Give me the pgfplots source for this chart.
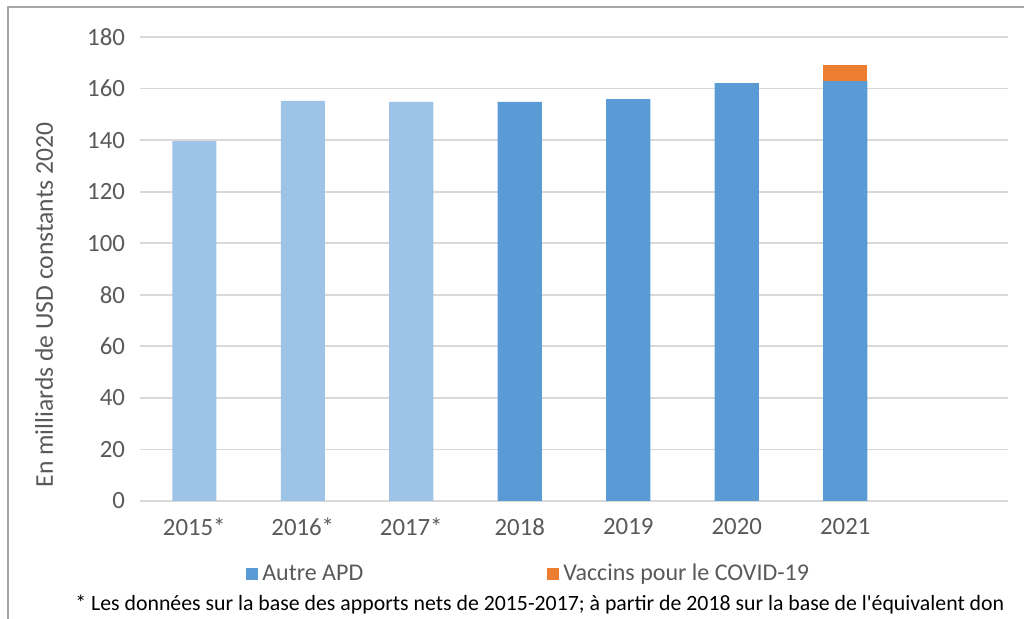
\documentclass[border=0pt]{standalone}
\usepackage{fontspec}
\setmainfont{Carlito}[Ligatures=TeXOff]
\usepackage{pgfplots}
\pgfplotsset{compat=1.18}
\definecolor{lightbar}{HTML}{9DC3E6}
\definecolor{bluebar}{HTML}{5B9BD5}
\definecolor{orangebar}{HTML}{ED7D31}
\definecolor{txt}{HTML}{595959}
\definecolor{gridc}{HTML}{D9D9D9}
\definecolor{framec}{HTML}{A6A6A6}
\begin{document}
\begin{tikzpicture}
\useasboundingbox (0,0) rectangle (512pt,-309.5pt);
\draw[framec,line width=0.8pt] (4pt,-309.5pt) -- (4pt,-3.5pt) -- (512pt,-3.5pt);
\begin{axis}[
  at={(70pt,-250.5pt)}, anchor=south west,
  scale only axis, width=434pt, height=232pt,
  ybar stacked, bar width=22pt,
  xmin=-0.5, xmax=7.5, ymin=0, ymax=180,
  xtick={0,1,2,3,4,5,6},
  xticklabels={2015*,2016*,2017*,2018,2019,2020,2021},
  ytick={0,20,...,180},
  ymajorgrids, grid style={gridc,line width=0.9pt},
  axis line style={draw=none},
  axis x line*=bottom,
  x axis line style={draw=gridc,line width=0.9pt},
  major tick length=0pt,
  tick label style={font=\fontsize{12.4}{14}\selectfont, text=txt},
  /pgf/number format/assume math mode=true,
  yticklabel style={xshift=-4pt},
  xticklabel style={yshift=-5pt},
  legend columns=2,
  legend style={at={(axis description cs:0.122,-0.157)}, anchor=west, draw=none, fill=none,
    font=\fontsize{12}{14}\selectfont, text=txt, inner sep=0pt,
    /tikz/every even column/.append style={column sep=90pt}},
  legend cell align=left,
  legend image code/.code={\fill[#1] (0pt,-3pt) rectangle (6pt,3pt);},
]
\addplot[fill=lightbar, draw=none, forget plot] coordinates {(0,139.6) (1,155.2) (2,154.8) (3,0) (4,0) (5,0) (6,0)};
\addplot[fill=bluebar, draw=none] coordinates {(0,0) (1,0) (2,0) (3,154.8) (4,155.9) (5,162.1) (6,162.9)};
\addplot[fill=orangebar, draw=none] coordinates {(0,0) (1,0) (2,0) (3,0) (4,0) (5,0) (6,6.2)};
\legend{Autre APD, Vaccins pour le COVID-19}
\end{axis}
\node[rotate=90, text=txt, font=\fontsize{12.8}{15}\selectfont] at (22pt,-152.5pt) {En milliards de USD constants 2020};
\node[anchor=west, font=\fontsize{10.9}{13}\selectfont, inner sep=0pt] at (37.5pt,-302.5pt) {* Les données sur la base des apports nets de 2015-2017; à partir de 2018 sur la base de l'équivalent don};
\end{tikzpicture}
\end{document}
